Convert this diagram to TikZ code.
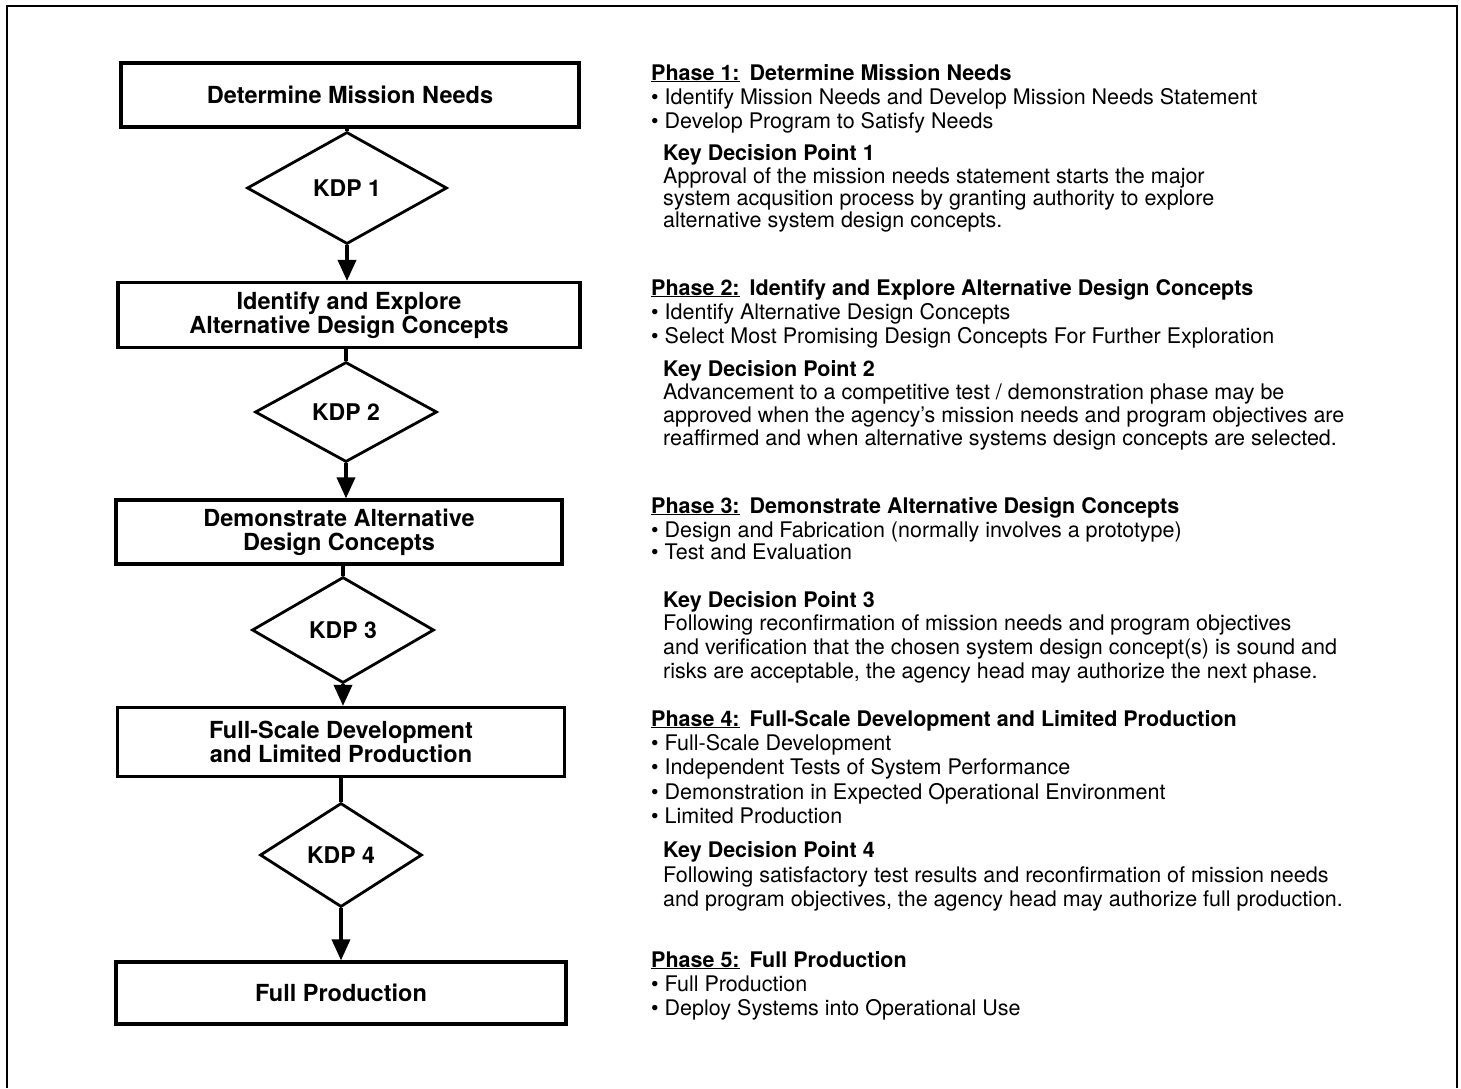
\documentclass[tikz,border=0pt]{standalone}
\usepackage{fontspec}
\setmainfont{TeX Gyre Heros}
\usetikzlibrary{shapes.geometric,arrows.meta}
\begin{document}
\begin{tikzpicture}[x=1pt,y=-1pt,
 box/.style={draw,line width=3.2pt,inner sep=0pt,align=center,font=\fontsize{23.5}{24}\selectfont\bfseries},
 kdp/.style={draw,diamond,line width=2.8pt,inner sep=0pt,font=\fontsize{23}{24}\selectfont\bfseries},
 conn/.style={line width=3.4pt},
 arr/.style={line width=3.6pt,-{Triangle[length=21pt,width=18pt]}},
 frame/.style={line width=2pt},
 txt/.style={anchor=base west,inner sep=0pt,font=\fontsize{21.5}{24}\selectfont},
 hd/.style={anchor=base west,inner sep=0pt,font=\fontsize{21.5}{24}\selectfont\bfseries}
]
\useasboundingbox (0,0) rectangle (1461,1088);
\draw[frame] (7,1088) -- (7,6) -- (1457,6) -- (1457,1088);

% flowchart
\node[box,minimum width=458pt,minimum height=64pt] (b1) at (350,95) {Determine Mission Needs};
\node[kdp,minimum width=200pt,minimum height=112pt] (k1) at (347,188) {KDP 1};
\node[box,minimum width=462pt,minimum height=65pt] (b2) at (349,315) {Identify and Explore\\Alternative Design Concepts};
\node[kdp,minimum width=182pt,minimum height=100pt] (k2) at (346,412) {KDP 2};
\node[box,minimum width=446pt,minimum height=64pt] (b3) at (339,532) {Demonstrate Alternative\\Design Concepts};
\node[kdp,minimum width=182pt,minimum height=106pt] (k3) at (343,630) {KDP 3};
\node[box,minimum width=447pt,minimum height=69pt] (b4) at (341,742) {Full-Scale Development\\and Limited Production};
\node[kdp,minimum width=162pt,minimum height=104pt] (k4) at (341,855) {KDP 4};
\node[box,minimum width=450pt,minimum height=62pt] (b5) at (341,993) {Full Production};

\draw[conn] (b1.south -| k1.north) -- (k1.north);
\draw[arr] (k1.south) -- (k1.south |- b2.north);
\draw[conn] (b2.south -| k2.north) -- (k2.north);
\draw[arr] (k2.south) -- (k2.south |- b3.north);
\draw[conn] (b3.south -| k3.north) -- (k3.north);
\draw[arr] (k3.south) -- (k3.south |- b4.north);
\draw[conn] (b4.south -| k4.north) -- (k4.north);
\draw[arr] (k4.south) -- (k4.south |- b5.north);

% right-hand text
\node[hd] (p1) at (651,80) {\underline{Phase 1:}\hspace{10pt}Determine Mission Needs};
\node[txt] (p1a) at (651,104) {• Identify Mission Needs and Develop Mission Needs Statement};
\node[txt] (p1b) at (651,128) {• Develop Program to Satisfy Needs};
\node[hd] (d1) at (663,160) {Key Decision Point 1};
\node[txt] (d1a) at (663,183) {Approval of the mission needs statement starts the major};
\node[txt] (d1b) at (663,205) {system acqusition process by granting authority to explore};
\node[txt] (d1c) at (663,227) {alternative system design concepts.};

\node[hd] (p2) at (651,295) {\underline{Phase 2:}\hspace{10pt}Identify and Explore Alternative Design Concepts};
\node[txt] (p2a) at (651,319) {• Identify Alternative Design Concepts};
\node[txt] (p2b) at (651,343) {• Select Most Promising Design Concepts For Further Exploration};
\node[hd] (d2) at (663,376) {Key Decision Point 2};
\node[txt] (d2a) at (663,399) {Advancement to a competitive test / demonstration phase may be};
\node[txt] (d2b) at (663,422) {approved when the agency's mission needs and program objectives are};
\node[txt] (d2c) at (663,445) {reaffirmed and when alternative systems design concepts are selected.};

\node[hd] (p3) at (651,513) {\underline{Phase 3:}\hspace{10pt}Demonstrate Alternative Design Concepts};
\node[txt] (p3a) at (651,537) {• Design and Fabrication (normally involves a prototype)};
\node[txt] (p3b) at (651,559) {• Test and Evaluation};
\node[hd] (d3) at (663,607) {Key Decision Point 3};
\node[txt] (d3a) at (663,630) {Following reconfirmation of mission needs and program objectives};
\node[txt] (d3b) at (663,654) {and verification that the chosen system design concept(s) is sound and};
\node[txt] (d3c) at (663,678) {risks are acceptable, the agency head may authorize the next phase.};

\node[hd] (p4) at (651,726) {\underline{Phase 4:}\hspace{10pt}Full-Scale Development and Limited Production};
\node[txt] (p4a) at (651,750) {• Full-Scale Development};
\node[txt] (p4b) at (651,774) {• Independent Tests of System Performance};
\node[txt] (p4c) at (651,799) {• Demonstration in Expected Operational Environment};
\node[txt] (p4d) at (651,823) {• Limited Production};
\node[hd] (d4) at (663,857) {Key Decision Point 4};
\node[txt] (d4a) at (663,882) {Following satisfactory test results and reconfirmation of mission needs};
\node[txt] (d4b) at (663,906) {and program objectives, the agency head may authorize full production.};

\node[hd] (p5) at (651,967) {\underline{Phase 5:}\hspace{10pt}Full Production};
\node[txt] (p5a) at (651,991) {• Full Production};
\node[txt] (p5b) at (651,1015) {• Deploy Systems into Operational Use};
\end{tikzpicture}
\end{document}
